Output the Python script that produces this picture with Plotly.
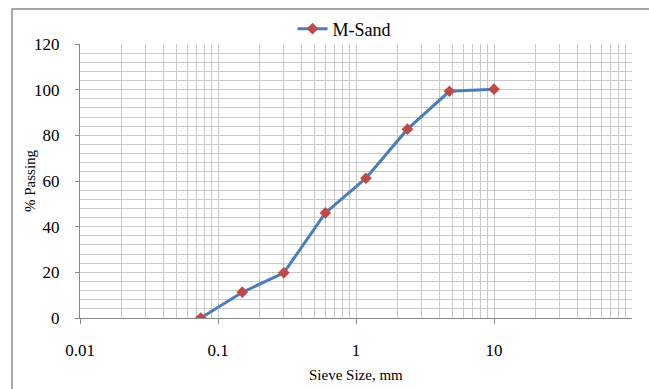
import plotly.graph_objects as go

sieve_size_mm = [0.075, 0.15, 0.3, 0.6, 1.18, 2.36, 4.75, 10]
percent_passing = [0, 11.3, 19.8, 46.0, 61.2, 82.7, 99.3, 100.2]
series_name = "M-Sand"
x_tick_vals = [0.01, 0.1, 1, 10]
x_tick_text = ["0.01", "0.1", "1", "10"]
x_title = "Sieve Size, mm"
y_title = "% Passing"

FONT = "Liberation Serif, Times New Roman, serif"
GRID = "#c9c9c9"
PW, PH = 552, 274
W, H = 649, 389

minor_x = [m * 10 ** k for k in range(-2, 2) for m in range(2, 10)] + [100]

fig = go.Figure()
fig.add_trace(go.Scatter(
    x=sieve_size_mm, y=percent_passing, name=series_name,
    mode="lines+markers",
    line=dict(color="#4a7ebb", width=3),
    marker=dict(symbol="diamond", size=9, color="#be4b48"),
    showlegend=True,
))

fig.update_layout(
    width=W, height=H,
    margin=dict(l=80, r=17, t=44, b=71, autoexpand=False),
    paper_bgcolor="white", plot_bgcolor="white",
    font=dict(family=FONT, size=16, color="#000000"),
    showlegend=True,
    legend=dict(orientation="h", x=(80 + 0.5 * PW - 12) / W, xanchor="center", xref="container",
                y=1 - 29 / H, yanchor="middle", yref="container",
                font=dict(size=18, family=FONT),
                bgcolor="rgba(0,0,0,0)", itemwidth=30),
    xaxis=dict(
        type="log", range=[-2, 2], automargin=False,
        tickvals=x_tick_vals, ticktext=x_tick_text,
        ticks="outside", ticklen=5, tickcolor="#888888",
        showgrid=True, gridcolor=GRID, gridwidth=1,
        minor=dict(tickvals=minor_x, showgrid=True, gridcolor=GRID, gridwidth=1, ticks=""),
        showline=True, linecolor="#888888", linewidth=1,
        zeroline=False,
        tickfont=dict(size=17, family=FONT),
        ticklabelstandoff=12,
    ),
    yaxis=dict(
        range=[0, 120], dtick=20, automargin=False,
        ticks="outside", ticklen=4, tickcolor="#888888",
        showgrid=True, gridcolor=GRID, gridwidth=1,
        minor=dict(dtick=4, showgrid=True, gridcolor=GRID, gridwidth=1, ticks=""),
        showline=True, linecolor="#888888", linewidth=1,
        zeroline=False,
        tickfont=dict(size=17, family=FONT),
        ticklabelstandoff=12,
    ),
    annotations=[
        dict(text=x_title, xref="paper", yref="paper", x=0.5, y=-57 / PH,
             xanchor="center", yanchor="middle", showarrow=False,
             font=dict(size=15, family=FONT)),
        dict(text=y_title, xref="paper", yref="paper", x=-50 / PW, y=0.5,
             xanchor="center", yanchor="middle", showarrow=False, textangle=-90,
             font=dict(size=15, family=FONT)),
    ],
    shapes=[dict(type="rect", xref="paper", yref="paper",
                 x0=-68 / PW, x1=1.2, y0=-0.5, y1=1 + 35 / PH,
                 line=dict(color="#8c8c8c", width=1.5), layer="below")],
)

fig.write_html("out.html")
